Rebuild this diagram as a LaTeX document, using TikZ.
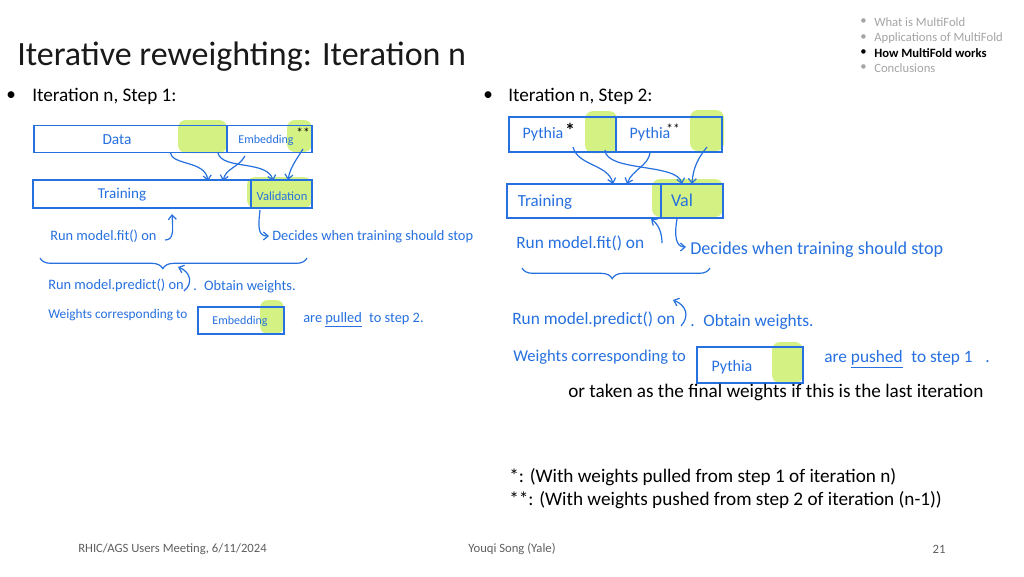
\documentclass[tikz,border=0pt]{standalone}
\usepackage{fontspec}
\setmainfont{Carlito}
\usetikzlibrary{arrows.meta,decorations.pathreplacing}
\definecolor{ink}{RGB}{38,112,224}
\definecolor{hl}{RGB}{205,240,110}
\definecolor{side}{RGB}{165,165,165}
\definecolor{foot}{RGB}{95,95,95}
\definecolor{titlec}{RGB}{25,25,25}
\begin{document}
\begin{tikzpicture}[x=0.75pt,y=-0.75pt,
  cell/.style={draw=ink,line width=1.1pt,inner sep=0pt},
  hand/.style={text=ink,inner sep=0pt,anchor=west},
  handA/.style={hand,font=\fontsize{10.8}{12}\selectfont},
  handB/.style={hand,font=\fontsize{13}{15}\selectfont},
  lblA/.style={text=ink,inner sep=0pt,font=\fontsize{10}{12}\selectfont},
  lblB/.style={text=ink,inner sep=0pt,font=\fontsize{12}{14}\selectfont},
  harrow/.style={draw=ink,line width=0.9pt,-{Straight Barb[length=3.5pt,width=6pt]}},
  hmark/.style={fill=hl,opacity=0.85,rounded corners=6pt},
  body/.style={anchor=west,inner sep=0pt,text=black,font=\fontsize{14.4}{17}\selectfont},
  sidebar/.style={anchor=west,inner sep=0pt,text=side,font=\fontsize{9.5}{11}\selectfont},
  footer/.style={inner sep=0pt,text=foot,font=\fontsize{9.5}{11}\selectfont},
  star/.style={inner sep=0pt,text=black}]
\useasboundingbox[fill=white] (0,0) rectangle (1024,576);

% ---------- header ----------
\node[anchor=west,inner sep=0pt,text=titlec,font=\fontsize{25.5}{30}\selectfont] (title) at (17,57) {Iterative reweighting: Iteration n};
\node[sidebar] (s1d) at (860,22) {•};
\node[sidebar] (s1) at (874,22) {What is MultiFold};
\node[sidebar] (s2d) at (860,38) {•};
\node[sidebar] (s2) at (874,38) {Applications of MultiFold};
\node[sidebar,text=black] (s3d) at (860,53) {•};
\node[sidebar,text=black,font=\fontsize{9.5}{11}\bfseries] (s3) at (874,53) {How MultiFold works};
\node[sidebar] (s4d) at (860,68) {•};
\node[sidebar] (s4) at (874,68) {Conclusions};

\node[body] (b1d) at (6,96) {•};
\node[body] (b1) at (32,96) {Iteration n, Step 1:};
\node[body] (b2d) at (483,96) {•};
\node[body] (b2) at (508,96) {Iteration n, Step 2:};

% ---------- highlights ----------
\fill[hmark] (178,120) rectangle (227,153);
\fill[hmark] (287,120) rectangle (312,152);
\fill[hmark] (247,177) rectangle (312,208);
\fill[hmark] (260,300) rectangle (284,334);
\fill[hmark] (585,111) rectangle (617,153);
\fill[hmark] (690,110) rectangle (724,151);
\fill[hmark] (652,179) rectangle (723,217);
\fill[hmark] (772,342) rectangle (803,383);

% ---------- step 1 boxes ----------
\node[cell,minimum width=193*0.75pt,minimum height=27*0.75pt] (data) at (130.5,139) {};
\node[cell,minimum width=85*0.75pt,minimum height=27*0.75pt] (emb) at (269.5,139) {};
\node[cell,minimum width=218*0.75pt,minimum height=28*0.75pt] (train1) at (142,194) {};
\node[cell,minimum width=61*0.75pt,minimum height=28*0.75pt] (val1) at (281.5,194) {};
\node[lblA,font=\fontsize{11.5}{13}\selectfont] (dataT) at (117,140) {Data};
\node[lblA,font=\fontsize{9}{11}\selectfont] (embT) at (266,140) {Embedding};
\node[star,font=\fontsize{10}{12}\selectfont] (st1) at (303,133) {**};
\node[lblA,font=\fontsize{11.3}{13}\selectfont] (train1T) at (122,195) {Training};
\node[lblA,font=\fontsize{9.4}{11}\selectfont] (val1T) at (282,196) {Validation};

\coordinate (a1s) at (170,152);  \coordinate (a1e) at (208,181);
\coordinate (a2s) at (245,156);  \coordinate (a2e) at (223,181);
\coordinate (a3s) at (218,153);  \coordinate (a3e) at (273,181);
\coordinate (a4s) at (303,149);  \coordinate (a4e) at (288,180);
\draw[harrow] (a1s) .. controls (172,166) and (205,160) .. (a1e);
\draw[harrow] (a2s) .. controls (238,168) and (226,168) .. (a2e);
\draw[harrow] (a3s) .. controls (222,170) and (268,160) .. (a3e);
\draw[harrow] (a4s) .. controls (296,160) and (290,168) .. (a4e);

\node[handA] (fit1) at (50,236) {Run model.fit() on};
\coordinate (f1s) at (165,240); \coordinate (f1e) at (172,214);
\draw[harrow] (f1s) .. controls (174,240) and (173,230) .. (f1e);
\coordinate (d1s) at (260,210); \coordinate (d1e) at (269,236);
\draw[harrow] (d1s) .. controls (258,228) and (258,236) .. (d1e);
\node[handA] (dec1) at (272,237) {Decides when training should stop};

\coordinate (br1a) at (40,258); \coordinate (br1b) at (307,258);
\draw[ink,line width=0.9pt,decorate,decoration={brace,mirror,amplitude=8pt,aspect=0.46}] (br1a) -- (br1b);

\node[handA] (pred1) at (48,285) {Run model.predict() on};
\coordinate (p1s) at (184,291); \coordinate (p1e) at (178,267);
\draw[harrow] (p1s) .. controls (193,284) and (191,272) .. (p1e);
\node[handA] (obt1) at (193,287) {.\enspace Obtain weights.};
\node[handA,font=\fontsize{10}{12}\selectfont] (wc1) at (48,315) {Weights corresponding to};
\node[cell,minimum width=86*0.75pt,minimum height=27*0.75pt] (embbox) at (241,320.5) {};
\node[lblA,font=\fontsize{9}{11}\selectfont] (embboxT) at (240,321) {Embedding};
\node[handA] (pull1) at (303,320) {are \underline{pulled}\enspace to step 2.};

% ---------- step 2 boxes ----------
\node[cell,minimum width=107*0.75pt,minimum height=35*0.75pt] (py1) at (562.5,134.5) {};
\node[cell,minimum width=106*0.75pt,minimum height=35*0.75pt] (py2) at (669,134.5) {};
\node[cell,minimum width=154*0.75pt,minimum height=34*0.75pt] (train2) at (584,201) {};
\node[cell,minimum width=62*0.75pt,minimum height=34*0.75pt] (val2) at (692,201) {};
\node[lblB] (py1T) at (543,134) {Pythia};
\node[star,font=\fontsize{15}{16}\bfseries] (st2) at (570,130) {*};
\node[lblB] (py2T) at (650,134) {Pythia};
\node[star,font=\fontsize{10}{12}\selectfont] (st3) at (673,129) {**};
\node[lblB,font=\fontsize{12.7}{15}\selectfont] (train2T) at (545,202) {Training};
\node[lblB,font=\fontsize{13.5}{15}\selectfont] (val2T) at (682,200) {Val};

\coordinate (b1s) at (573,147);  \coordinate (b1e) at (613,184);
\coordinate (b2s) at (650,153);  \coordinate (b2e) at (627,184);
\coordinate (b3s) at (605,150);  \coordinate (b3e) at (682,184);
\coordinate (b4s) at (707,147);  \coordinate (b4e) at (692,184);
\draw[harrow] (b1s) .. controls (578,166) and (608,164) .. (b1e);
\draw[harrow] (b2s) .. controls (648,166) and (632,170) .. (b2e);
\draw[harrow] (b3s) .. controls (606,172) and (677,163) .. (b3e);
\draw[harrow] (b4s) .. controls (698,158) and (693,168) .. (b4e);

\node[handB] (fit2) at (516,243) {Run model.fit() on};
\coordinate (f2s) at (662,243); \coordinate (f2e) at (651,219);
\draw[harrow] (f2s) .. controls (662,232) and (658,224) .. (f2e);
\coordinate (d2s) at (677,219); \coordinate (d2e) at (686,247);
\draw[harrow] (d2s) .. controls (674,236) and (676,247) .. (d2e);
\node[handB,font=\fontsize{13.6}{16}\selectfont] (dec2) at (690,250) {Decides when training should stop};

\coordinate (br2a) at (522,268); \coordinate (br2b) at (710,268);
\draw[ink,line width=0.9pt,decorate,decoration={brace,mirror,amplitude=8pt,aspect=0.48}] (br2a) -- (br2b);

\node[handB] (pred2) at (512,320) {Run model.predict() on};
\coordinate (p2s) at (681,326); \coordinate (p2e) at (673,300);
\draw[harrow] (p2s) .. controls (690,316) and (686,305) .. (p2e);
\node[handB] (obt2) at (690,322) {.\enspace Obtain weights.};
\node[handB,font=\fontsize{12.4}{15}\selectfont] (wc2) at (513,357) {Weights corresponding to};
\node[cell,minimum width=106*0.75pt,minimum height=36*0.75pt] (pybox) at (750,365) {};
\node[lblB] (pyboxT) at (732,367) {Pythia};
\node[handB] (push2) at (824,359) {are \underline{pushed}\enspace to step 1 \enspace .};

\node[body] (final) at (568,392) {or taken as the final weights if this is the last iteration};
\node[body] (n1) at (509,477) {*: (With weights pulled from step 1 of iteration n)};
\node[body] (n2) at (509,500) {**: (With weights pushed from step 2 of iteration (n-1))};

% ---------- footer ----------
\node[footer,anchor=west] (f1) at (78,549) {RHIC/AGS Users Meeting, 6/11/2024};
\node[footer] (f2) at (512,549) {Youqi Song (Yale)};
\node[footer] (f3) at (939,549) {21};
\end{tikzpicture}
\end{document}
